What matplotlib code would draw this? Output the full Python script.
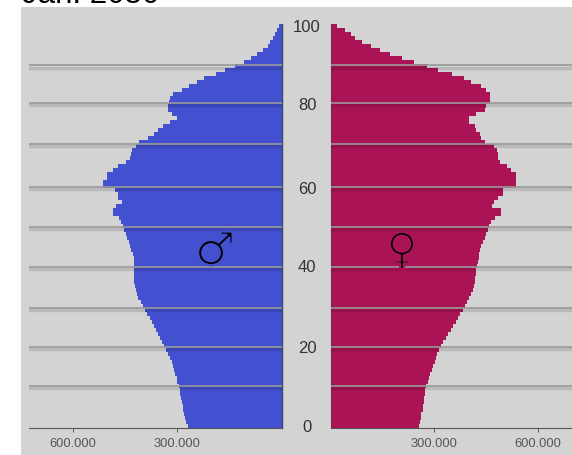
import matplotlib
matplotlib.use('Agg')
import matplotlib.pyplot as plt
import matplotlib.patheffects as pe
from matplotlib.patches import Rectangle

# population in thousands, index = age 0..100
male = [269, 276, 278, 280, 283, 285, 287, 289, 292, 294,
        296, 300, 302, 306, 310, 312, 316, 322, 326, 333,
        339, 344, 350, 356, 362, 367, 374, 380, 386, 392,
        400, 406, 412, 417, 420, 422, 424, 425, 426, 426,
        426, 426, 426, 427, 432, 436, 440, 444, 448, 452,
        456, 463, 467, 486, 486, 475, 459, 470, 470, 479,
        515, 515, 503, 503, 486, 470, 448, 436, 432, 430,
        419, 410, 384, 367, 355, 341, 322, 300, 317, 328,
        328, 323, 322, 312, 288, 266, 245, 224, 189, 163,
        135, 108, 90, 71, 54, 39, 34, 27, 20, 15,
        10]
female = [257, 259, 261, 263, 267, 268, 270, 271, 273, 274,
          276, 284, 286, 289, 293, 298, 302, 305, 310, 314,
          320, 327, 334, 341, 349, 356, 365, 370, 376, 383,
          389, 395, 401, 408, 413, 416, 418, 420, 421, 422,
          424, 427, 429, 431, 434, 437, 443, 447, 451, 456,
          460, 464, 476, 495, 495, 468, 473, 485, 500, 500,
          539, 539, 539, 539, 524, 512, 490, 485, 485, 483,
          474, 447, 437, 432, 422, 418, 401, 401, 422, 447,
          451, 463, 463, 461, 451, 437, 408, 386, 352, 313,
          280, 241, 208, 172, 143, 117, 92, 72, 59, 41,
          19]
ages = list(range(101))

grid_ages = [10.4, 20.2, 29.9, 40.2, 50.2, 60.2, 70.9, 81.2, 90.6]
age_labels = ['0', '20', '40', '60', '80', '100']
age_label_pos = [0.2, 20.1, 40.4, 59.9, 80.9, 100.4]
x_ticks = [300, 600]
x_labels = ['300.000', '600.000']

W, H = 572.0, 456.0
BG = '#d3d3d3'
BLUE = '#4350d0'
RED = '#ab1357'

fig = plt.figure(figsize=(5.72, 4.56), dpi=100, facecolor='white')
fig.add_artist(Rectangle((21 / W, 0), 551 / W, 448 / H, transform=fig.transFigure,
                         facecolor=BG, edgecolor='none', zorder=-1))
fig.text(22 / W, 1.012, 'Jan. 2050', fontsize=22.5, family='Liberation Sans', color='black', va='center')

ax1 = fig.add_axes([29 / W, 27.3 / H, 253 / W, 404 / H])
ax2 = fig.add_axes([330.5 / W, 27.3 / H, 241.5 / W, 404 / H])

ax1.barh(ages, male, height=1.0, align='edge', color=BLUE, linewidth=0)
ax2.barh(ages, female, height=1.0, align='edge', color=RED, linewidth=0)

ax1.set_xlim(726, 0)
ax2.set_xlim(0, 700)

for ax in (ax1, ax2):
    ax.set_ylim(0, 101)
    ax.patch.set_visible(False)
    for s in ('top', 'left', 'right'):
        ax.spines[s].set_visible(False)
    ax.spines['bottom'].set_color('#555555')
    ax.spines['bottom'].set_linewidth(0.8)
    ax.set_yticks([])
    ax.set_xticks(x_ticks)
    ax.set_xticklabels(x_labels, fontsize=9.3, color='#555555', family='Liberation Sans')
    ax.tick_params(axis='x', length=3, width=0.7, color='#555555', pad=4)
    for g in grid_ages:
        # soft shadow under each line
        ax.axhline(g - 0.55, color='black', alpha=0.12, lw=2.5, zorder=3)
        ax.axhline(g, color='#999999', lw=1.2, zorder=4)

ax1.spines['right'].set_visible(True)
ax1.spines['right'].set_color('#3a4a68')
ax1.spines['right'].set_linewidth(1.0)
ax2.spines['left'].set_visible(True)
ax2.spines['left'].set_color('#7a2a50')
ax2.spines['left'].set_linewidth(0.8)

# age labels sit in the gap between both halves
for lab, pos in zip(age_labels, age_label_pos):
    ax1.text(-72, pos, lab, fontsize=12, color='#333333', family='Liberation Sans',
             ha='center', va='center', clip_on=False)

# DejaVu glyphs are heavy, a stroke in the bar colour thins them down
ax1.text(192, 43.9, '\u2642', fontsize=33, color='black', family='DejaVu Sans', ha='center', va='center',
         path_effects=[pe.Normal(), pe.Stroke(linewidth=1.5, foreground=BLUE)], zorder=6)
ax2.text(207, 44.1, '\u2640', fontsize=31, color='black', family='DejaVu Sans', ha='center', va='center',
         path_effects=[pe.Normal(), pe.Stroke(linewidth=1.5, foreground=RED)], zorder=6)

plt.savefig('out.png', dpi=100)
